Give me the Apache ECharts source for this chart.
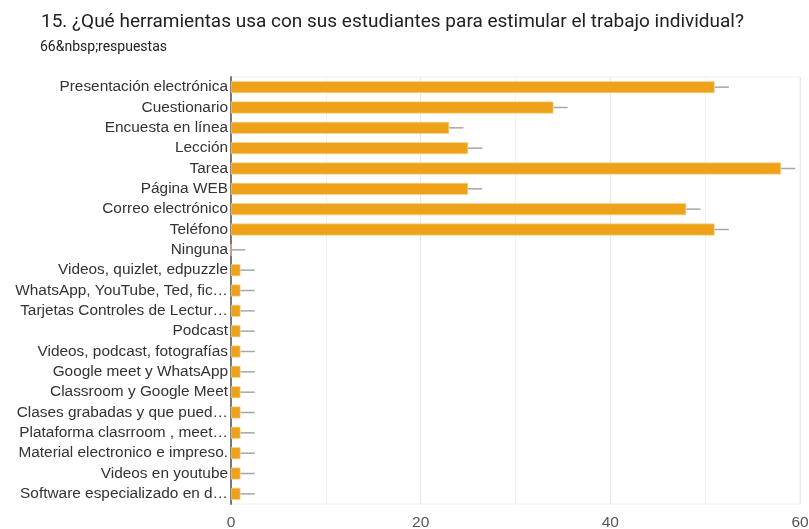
<!DOCTYPE html>
<html><head><meta charset="utf-8">
<script src="https://cdn.jsdelivr.net/npm/echarts@6/dist/echarts.min.js"></script>
<style>html,body{margin:0;padding:0;background:#fff}#c{width:809px;height:529px}</style>
</head><body><div id="c"></div>
<script>
const categories = [
  "Presentación electrónica","Cuestionario","Encuesta en línea","Lección","Tarea","Página WEB",
  "Correo electrónico","Teléfono","Ninguna","Videos, quizlet, edpuzzle","WhatsApp, YouTube, Ted, fic…",
  "Tarjetas Controles de Lectur…","Podcast","Videos, podcast, fotografías","Google meet y WhatsApp",
  "Classroom y Google Meet","Clases grabadas y que pued…","Plataforma clasrroom , meet…",
  "Material electronico e impreso.","Videos en youtube","Software especializado en d…"
];
const values = [51,34,23,25,58,25,48,51,0,1,1,1,1,1,1,1,1,1,1,1,1];
const errors = [1.5,1.5,1.5,1.5,1.5,1.5,1.5,1.5,1.5,1.5,1.5,1.5,1.5,1.5,1.5,1.5,1.5,1.5,1.5,1.5,1.5];
const xTicks = [0,20,40,60];

const chart = echarts.init(document.getElementById('c'));
chart.setOption({
  animation:false,
  title:[
    {text:"15. ¿Qué herramientas usa con sus estudiantes para estimular el trabajo individual?",left:36,top:8,
     textStyle:{fontFamily:'Roboto',fontSize:19,fontWeight:'normal',color:'#202124'}},
    {text:"66&nbsp;respuestas",left:35,top:35,textStyle:{fontFamily:'Roboto',fontSize:14,fontWeight:'normal',color:'#202124'}}
  ],
  grid:{left:231,top:77,width:569,height:427,show:true,borderColor:'#eeeeee',borderWidth:1,
    containLabel:false,outerBoundsMode:'none'},
  xAxis:{type:'value',min:0,max:60,interval:20,
    axisLine:{show:false},axisTick:{show:false},
    axisLabel:{fontFamily:'Arial',fontSize:15.5,color:'#555',margin:11,
      formatter:v=>xTicks.includes(v)?String(v):''},
    splitLine:{lineStyle:{color:'#e8e8e8',width:1}},
    minorTick:{show:false,splitNumber:2},
    minorSplitLine:{show:true,lineStyle:{color:'#f2f2f2',width:1}}},
  yAxis:{type:'category',data:categories,inverse:true,
    axisLine:{show:true,lineStyle:{color:'#777',width:2}},axisTick:{show:false},
    axisLabel:{fontFamily:'Arial',fontSize:15.4,color:'#333',margin:3,interval:0}},
  series:[
    {type:'bar',data:values,barWidth:12,itemStyle:{color:'#eda219',borderColor:'#f7d79a',borderWidth:0.6},z:2},
    {type:'custom',z:3,data:values.map((v,i)=>[v,i,errors[i]]),
     renderItem:(params,api)=>{
       const v=api.value(0),i=api.value(1),e=api.value(2);
       const p0=api.coord([v,i]),p1=api.coord([v+e,i]);
       return {type:'line',shape:{x1:p0[0],y1:p0[1],x2:p1[0],y2:p1[1]},style:{stroke:'#a6a6a6',lineWidth:1.5}};
     }}
  ]
});
</script></body></html>
